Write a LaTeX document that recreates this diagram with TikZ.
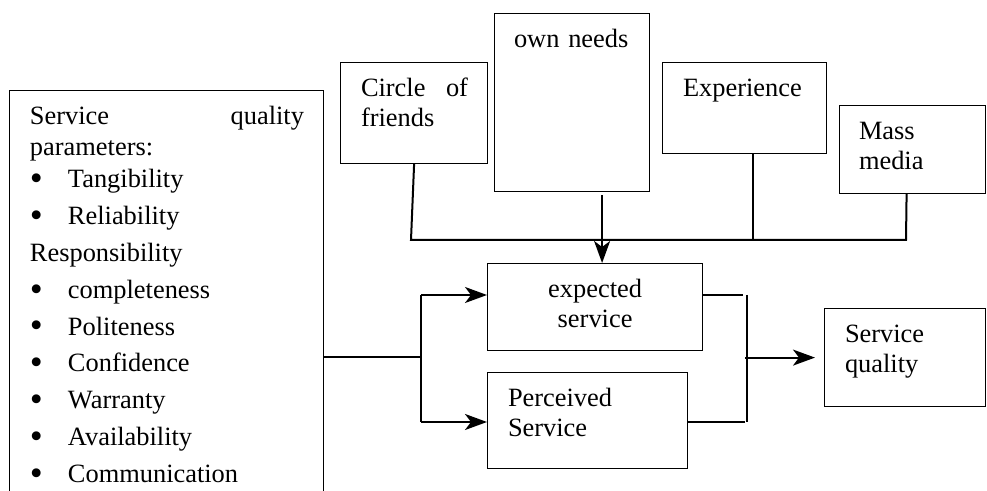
\documentclass[tikz,border=0pt]{standalone}
\usepackage{fontspec}
\setmainfont{Liberation Serif}
\usetikzlibrary{arrows.meta}
\tikzset{
	box/.style={draw,line width=0.6pt,anchor=north west,inner sep=0pt},
	txt/.style={anchor=base west,inner sep=0pt,align=left,font=\fontsize{13.2}{15}\selectfont},
	arr/.style={-{Stealth[length=11pt,width=8pt,inset=3pt]}}
}
\newcommand\bul{\makebox[19pt][l]{\raisebox{-1.4pt}{\scalebox{1.4}{\textbullet}}}}
\begin{document}
\begin{tikzpicture}[x=0.5pt,y=-0.5pt,line width=1pt]
	\useasboundingbox (0,0) rectangle (987,491);
	\clip (0,0) rectangle (987,491);
	% boxes
	\node[box,minimum width=157pt,minimum height=210pt] (params) at (9,90) {};
	\node[box,minimum width=73.5pt,minimum height=50.5pt] (friends) at (340,62) {};
	\node[box,minimum width=77.5pt,minimum height=89pt] (needs) at (494,13) {};
	\node[box,minimum width=82pt,minimum height=45.5pt] (exper) at (662,62) {};
	\node[box,minimum width=73pt,minimum height=44pt] (media) at (839,105) {};
	\node[box,minimum width=107.5pt,minimum height=43.5pt] (expect) at (487,263) {};
	\node[box,minimum width=100pt,minimum height=48pt] (perceiv) at (487,372) {};
	\node[box,minimum width=80.5pt,minimum height=49pt] (quality) at (824,308) {};
	% texts
	\node[txt,text width=137pt,font=\fontsize{13.2}{18.4}\selectfont] (params-t) at ([shift={(10pt,-17.5pt)}]params.north west)
		{Service\hfill quality\\[-2.9pt]
		parameters:\\[-2.4pt]
		\bul Tangibility\\
		\bul Reliability\\
		Responsibility\\
		\bul completeness\\
		\bul Politeness\\
		\bul Confidence\\
		\bul Warranty\\
		\bul Availability\\
		\bul Communication};
	\node[txt,text width=53.5pt] (friends-t) at ([shift={(10pt,-17.5pt)}]friends.north west) {Circle\hfill of\\friends};
	\node[txt,text width=60pt] (needs-t) at ([shift={(9.5pt,-17.5pt)}]needs.north west) {own needs};
	\node[txt,text width=62pt] (exper-t) at ([shift={(10pt,-17.5pt)}]exper.north west) {Experience};
	\node[txt,text width=53pt] (media-t) at ([shift={(9.5pt,-17.5pt)}]media.north west) {Mass\\media};
	\node[txt,anchor=base,align=center,text width=87.5pt] (expect-t) at ([yshift=-17.5pt]expect.north) {expected\\service};
	\node[txt,text width=80pt] (perceiv-t) at ([shift={(10pt,-17.5pt)}]perceiv.north west) {Perceived\\Service};
	\node[txt,text width=60pt] (quality-t) at ([shift={(10pt,-17.5pt)}]quality.north west) {Service\\quality};
	% upper bus
	\coordinate (busL) at (411,240);
	\coordinate (busR) at (906,240);
	\draw (friends.south)--(busL)--(busR)--([xshift=-3pt]media.south);
	\draw ([xshift=4pt]exper.south)--([xshift=4pt]exper.south |- busL);
	\draw[arr] ([shift={(15pt,-1.5pt)}]needs.south)--([xshift=15pt]needs.south |- expect.north);
	% left fork
	\coordinate (jT) at (421,295);
	\coordinate (jM) at (421,357);
	\coordinate (jB) at (421,422);
	\draw (jM -| params.east)--(jM);
	\draw (jT)--(jB);
	\draw[arr] (jT)--(jT -| expect.west);
	\draw[arr] (jB)--(jB -| perceiv.west);
	% right join
	\coordinate (kT) at (747,295);
	\coordinate (kB) at (747,422);
	\draw (kT)--(kB);
	\draw (kT -| expect.east)--([xshift=-2pt]kT);
	\draw (kB -| perceiv.east)--([xshift=-1pt]kB);
	\draw[arr,shorten >=4.5pt] ([xshift=-1pt]kT |- quality.west)--(quality.west);
\end{tikzpicture}
\end{document}
